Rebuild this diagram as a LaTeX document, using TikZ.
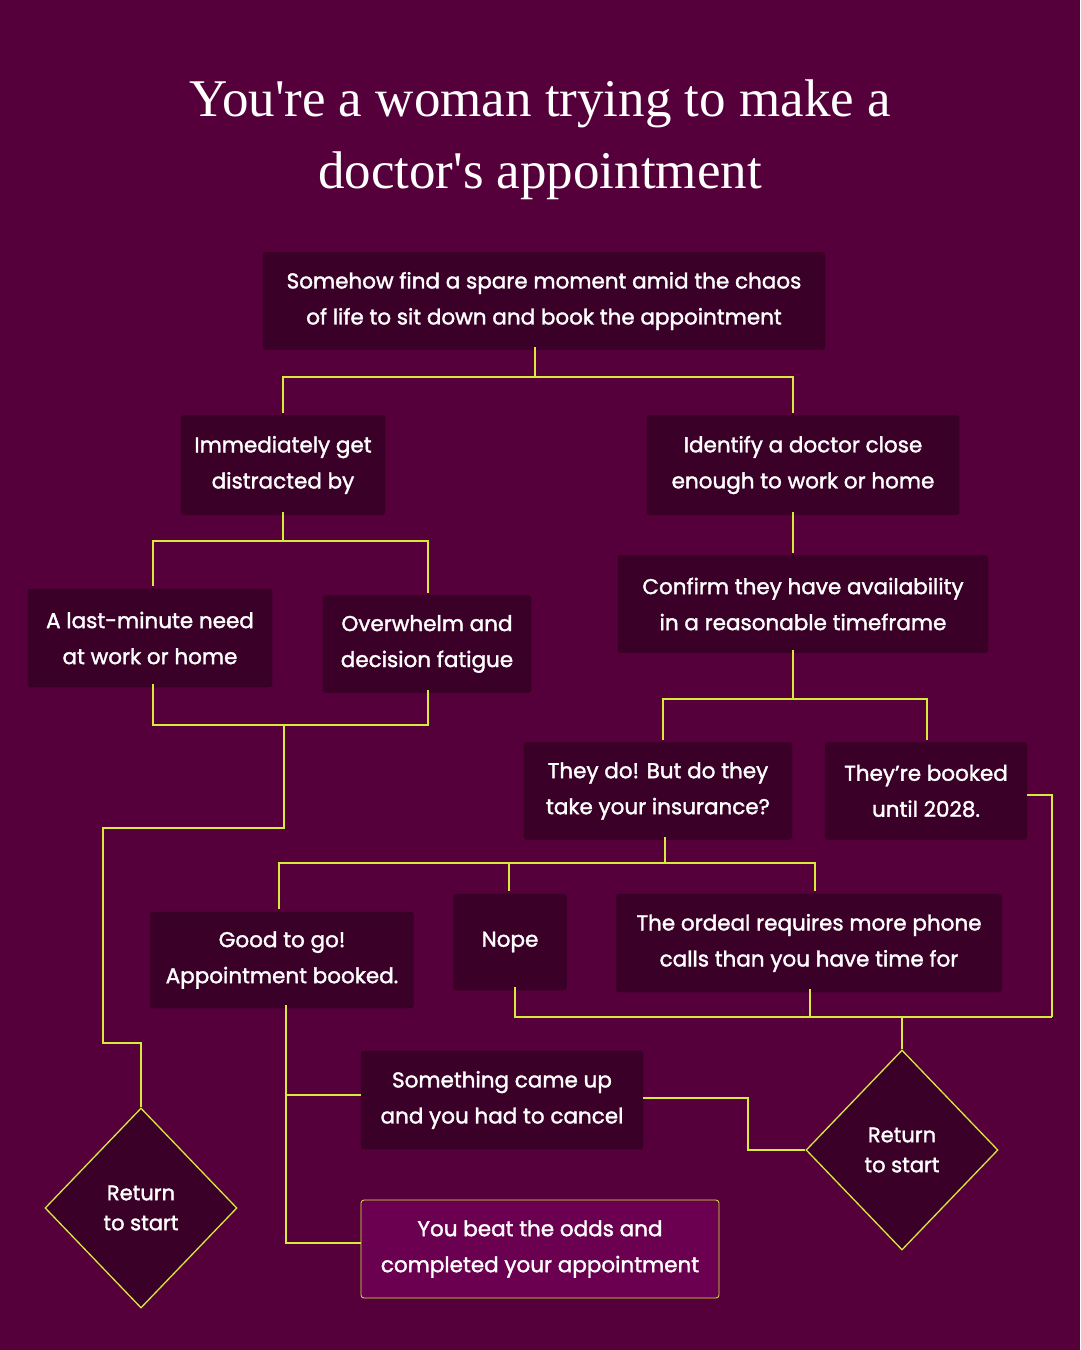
\documentclass[tikz,border=0pt]{standalone}
\usepackage{fontspec}
\setmainfont{Poppins}[FakeBold=1.6]
\newfontfamily\titlefont{Liberation Serif}
\usetikzlibrary{shapes.geometric}
\definecolor{bg}{HTML}{55003A}
\definecolor{boxc}{HTML}{3A0028}
\definecolor{boxb}{HTML}{2A001C}
\definecolor{ln}{HTML}{D6EA3C}
\definecolor{fin}{HTML}{6C0050}
\begin{document}
\begin{tikzpicture}[x=1pt,y=-1pt,
  box/.style={draw=boxb,fill=boxc,rounded corners=3pt,text=white,align=center,font=\fontsize{21.5}{36}\selectfont,inner sep=0pt},
  dia/.style={diamond,draw=ln,fill=boxc,line width=1.3pt,text=white,align=center,font=\fontsize{21}{30}\selectfont,minimum width=192pt,minimum height=200pt,inner sep=0pt},
  con/.style={draw=ln,line width=1.5pt}]
\fill[bg] (0,0) rectangle (1080,1350);
\node[text=white,align=center,font=\titlefont\fontsize{53}{72}\selectfont] (title) at (540,140) {You're a woman trying to make a\\doctor's appointment};
\node[box,minimum width=562pt,minimum height=97pt] (top) at (544,301) {Somehow find a spare moment amid the chaos\\of life to sit down and book the appointment};
\node[box,minimum width=204pt,minimum height=99pt] (dis) at (283,465) {Immediately get\\distracted by};
\node[box,minimum width=312pt,minimum height=99pt] (ide) at (803,465) {Identify a doctor close\\enough to work or home};
\node[box,minimum width=244pt,minimum height=98pt] (last) at (150,638) {A last-minute need\\at work or home};
\node[box,minimum width=208pt,minimum height=97pt] (over) at (427,644) {Overwhelm and\\decision fatigue};
\node[box,minimum width=370pt,minimum height=97pt] (conf) at (803,604) {Confirm they have availability\\in a reasonable timeframe};
\node[box,minimum width=268pt,minimum height=97pt] (do) at (658,791) {They do! But do they\\take your insurance?};
\node[box,minimum width=202pt,minimum height=97pt] (bk) at (926,791) {They’re booked\\until 2028.};
\node[box,minimum width=263pt,minimum height=96pt] (good) at (282,960) {Good to go!\\Appointment booked.};
\node[box,minimum width=113pt,minimum height=96pt] (nope) at (510,942) {Nope};
\node[box,minimum width=385pt,minimum height=98pt] (ord) at (809,943) {The ordeal requires more phone\\calls than you have time for};
\node[box,minimum width=282pt,minimum height=98pt] (some) at (502,1100) {Something came up\\and you had to cancel};
\node[box,draw=ln,fill=fin,line width=0.8pt,minimum width=358pt,minimum height=98pt] (beat) at (540,1249) {You beat the odds and\\completed your appointment};
\node[dia] (d1) at (141,1208) {Return\\to start};
\node[dia] (d2) at (902,1150) {Return\\to start};
% connectors
\draw[con] (535,347) -- (535,377) coordinate (a1);
\draw[con] (283,413) |- (a1) -| (793,413);
\draw[con] (283,512) -- (283,541) coordinate (a2);
\draw[con] (153,586) |- (a2) -| (428,593);
\draw[con] (153,684) |- (284,725) coordinate (a3) -| (428,690);
\draw[con] (a3) -- (284,828) -| (103,1043) -| (d1.north);
\draw[con] (793,512) -- (793,553);
\draw[con] (793,650) -- (793,699) coordinate (a4);
\draw[con] (663,740) |- (a4) -| (927,740);
\draw[con] (665,837) -- (665,863) coordinate (a5);
\draw[con] (279,909) |- (a5) -| (815,891);
\draw[con] (509,891) -- (509,863);
\draw[con] (1027,795) -| (1052,1017) coordinate (a6);
\draw[con] (515,987) |- (a6);
\draw[con] (810,989) -- (810,1017);
\draw[con] (902,1017) -- (d2.north);
\draw[con] (286,1005) |- (361,1243);
\draw[con] (286,1095) -- (361,1095);
\draw[con] (643,1098) -| (748,1150) -- (d2.west);
\end{tikzpicture}
\end{document}
